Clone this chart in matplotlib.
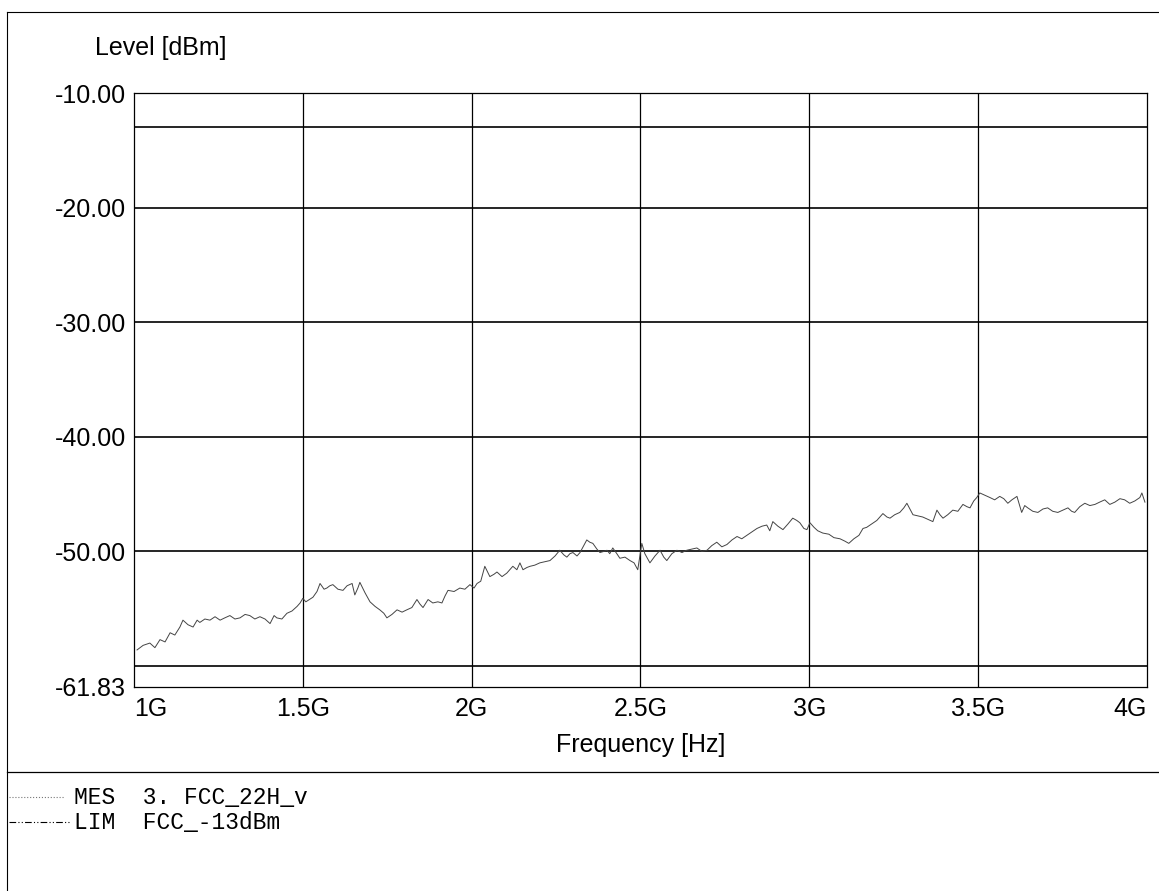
import matplotlib
matplotlib.use("Agg")
import matplotlib.pyplot as plt
from matplotlib.lines import Line2D

# MES 3. FCC_22H_v (GHz, dBm)
freq_ghz = [
    1.009, 1.027, 1.047, 1.062, 1.077, 1.092, 1.107, 1.121, 1.136, 1.145,
    1.160, 1.175, 1.187, 1.195, 1.210, 1.225, 1.240, 1.255, 1.269, 1.284,
    1.299, 1.314, 1.329, 1.343, 1.358, 1.373, 1.388, 1.403, 1.415, 1.423,
    1.438, 1.453, 1.468, 1.483, 1.492, 1.500, 1.509, 1.530, 1.542, 1.551,
    1.563, 1.571, 1.580, 1.589, 1.604, 1.619, 1.631, 1.646, 1.654, 1.663,
    1.669, 1.684, 1.699, 1.714, 1.728, 1.740, 1.749, 1.764, 1.779, 1.794,
    1.808, 1.823, 1.838, 1.847, 1.856, 1.871, 1.885, 1.900, 1.912, 1.921,
    1.930, 1.948, 1.965, 1.980, 1.995, 2.007, 2.016, 2.027, 2.039, 2.054,
    2.066, 2.075, 2.090, 2.104, 2.122, 2.134, 2.143, 2.152, 2.164, 2.173,
    2.187, 2.202, 2.217, 2.232, 2.247, 2.261, 2.273, 2.282, 2.291, 2.300,
    2.312, 2.321, 2.332, 2.341, 2.350, 2.359, 2.371, 2.380, 2.392, 2.401,
    2.409, 2.418, 2.430, 2.439, 2.454, 2.469, 2.481, 2.492, 2.504, 2.513,
    2.528, 2.543, 2.558, 2.569, 2.578, 2.593, 2.608, 2.623, 2.637, 2.652,
    2.667, 2.682, 2.697, 2.711, 2.726, 2.741, 2.756, 2.771, 2.786, 2.800,
    2.815, 2.830, 2.845, 2.860, 2.874, 2.883, 2.892, 2.907, 2.922, 2.937,
    2.951, 2.963, 2.972, 2.984, 2.993, 3.002, 3.014, 3.025, 3.040, 3.058,
    3.073, 3.091, 3.105, 3.117, 3.132, 3.147, 3.159, 3.170, 3.185, 3.200,
    3.218, 3.230, 3.239, 3.253, 3.268, 3.280, 3.289, 3.298, 3.307, 3.321,
    3.336, 3.351, 3.366, 3.378, 3.387, 3.396, 3.410, 3.425, 3.440, 3.455,
    3.467, 3.476, 3.487, 3.496, 3.505, 3.520, 3.535, 3.549, 3.564, 3.576,
    3.588, 3.600, 3.615, 3.629, 3.638, 3.647, 3.662, 3.677, 3.692, 3.706,
    3.721, 3.736, 3.751, 3.766, 3.777, 3.786, 3.801, 3.816, 3.831, 3.846,
    3.860, 3.875, 3.890, 3.905, 3.920, 3.934, 3.949, 3.964, 3.979, 3.985,
    3.994,
]
level_dbm = [
    -58.6, -58.2, -58.0, -58.4, -57.7, -57.9, -57.1, -57.3, -56.6, -56.0,
    -56.4, -56.6, -56.0, -56.2, -55.9, -56.0, -55.7, -56.0, -55.8, -55.6,
    -55.9, -55.8, -55.5, -55.6, -55.9, -55.7, -55.9, -56.3, -55.6, -55.8,
    -55.9, -55.4, -55.2, -54.8, -54.5, -54.1, -54.4, -54.0, -53.5, -52.8,
    -53.3, -53.2, -53.0, -52.9, -53.3, -53.4, -53.0, -52.8, -53.8, -53.2,
    -52.7, -53.6, -54.4, -54.8, -55.1, -55.4, -55.8, -55.5, -55.1, -55.3,
    -55.1, -54.9, -54.2, -54.6, -54.9, -54.2, -54.5, -54.4, -54.5, -53.9,
    -53.4, -53.5, -53.2, -53.3, -52.9, -53.2, -52.8, -52.6, -51.3, -52.2,
    -52.0, -51.8, -52.2, -51.9, -51.3, -51.6, -51.0, -51.6, -51.4, -51.3,
    -51.2, -51.0, -50.9, -50.8, -50.4, -49.9, -50.3, -50.5, -50.2, -50.1,
    -50.4, -50.1, -49.5, -49.0, -49.2, -49.3, -49.8, -50.1, -50.0, -49.9,
    -50.2, -49.7, -50.2, -50.6, -50.5, -50.8, -51.0, -51.6, -49.3, -50.2,
    -51.0, -50.4, -49.9, -50.5, -50.8, -50.2, -49.9, -50.1, -49.9, -49.8,
    -49.7, -50.0, -49.9, -49.5, -49.2, -49.6, -49.4, -49.0, -48.7, -48.9,
    -48.6, -48.3, -48.0, -47.8, -47.7, -48.2, -47.4, -47.8, -48.1, -47.6,
    -47.1, -47.3, -47.5, -48.0, -48.1, -47.5, -47.9, -48.2, -48.4, -48.5,
    -48.8, -48.9, -49.1, -49.3, -48.9, -48.6, -48.0, -47.9, -47.6, -47.3,
    -46.7, -47.0, -47.1, -46.8, -46.6, -46.2, -45.8, -46.3, -46.8, -46.9,
    -47.0, -47.2, -47.4, -46.4, -46.8, -47.1, -46.8, -46.4, -46.5, -45.9,
    -46.1, -46.2, -45.6, -45.3, -44.9, -45.1, -45.3, -45.5, -45.2, -45.4,
    -45.8, -45.5, -45.2, -46.6, -46.0, -46.2, -46.5, -46.6, -46.3, -46.2,
    -46.5, -46.6, -46.4, -46.2, -46.5, -46.6, -46.1, -45.8, -46.0, -45.9,
    -45.7, -45.5, -45.9, -45.7, -45.4, -45.5, -45.8, -45.6, -45.3, -44.9,
    -45.7,
]

limit_dbm = -13.0
grid_levels = [-20, -30, -40, -50, -60]
y_ticks = [-61.83, -50, -40, -30, -20, -10]
y_ticklabels = ["-61.83", "-50.00", "-40.00", "-30.00", "-20.00", "-10.00"]
x_ticks = [1.0, 1.5, 2.0, 2.5, 3.0, 3.5, 4.0]
x_ticklabels = ["1G", "1.5G", "2G", "2.5G", "3G", "3.5G", "4G"]

plt.rcParams["font.family"] = ["Liberation Sans", "DejaVu Sans"]

fig = plt.figure(figsize=(11.59, 8.91), dpi=100)
ax = fig.add_axes([0.1156, 0.2290, 0.8740, 0.6666])

for g in grid_levels:
    ax.axhline(g, color="black", lw=1.2, zorder=1)
for xt in x_ticks[1:-1]:
    ax.axvline(xt, color="black", lw=0.9, zorder=1)
ax.axhline(limit_dbm, color="black", lw=1.2, zorder=2)

ax.plot(freq_ghz, level_dbm, color="#444444", lw=0.7, zorder=3)

ax.set_xlim(1.0, 4.0)
ax.set_ylim(-61.83, -10)
ax.set_yticks(y_ticks)
ax.set_yticklabels(y_ticklabels, fontsize=18)
ax.set_xticks(x_ticks)
ax.set_xticklabels(x_ticklabels, fontsize=18)
labs = ax.get_xticklabels()
labs[0].set_horizontalalignment("left")
labs[-1].set_horizontalalignment("right")
ax.tick_params(axis="x", length=0, pad=7)
ax.tick_params(axis="y", length=0, pad=5.5)
for s in ax.spines.values():
    s.set_linewidth(0.9)

ax.set_xlabel("Frequency [Hz]", fontsize=18, labelpad=9)
fig.text(0.082, 0.946, "Level [dBm]", fontsize=18, va="center", ha="left")

# page frame of the test report
fig.add_artist(Line2D([0.006, 0.006], [0.0, 0.986], color="black", lw=0.8))
fig.add_artist(Line2D([0.006, 1.0], [0.986, 0.986], color="black", lw=0.8))
fig.add_artist(Line2D([0.006, 1.0], [0.134, 0.134], color="black", lw=0.9))

# legend block
mono = ["Liberation Mono", "DejaVu Sans Mono"]
fig.add_artist(Line2D([0.008, 0.055], [0.105, 0.105], color="#777777", lw=0.8, ls=":"))
fig.add_artist(Line2D([0.008, 0.060], [0.077, 0.077], color="black", lw=0.8,
                      dashes=[6, 2, 1, 2, 1, 2]))
fig.text(0.064, 0.105, "MES  3. FCC_22H_v", family=mono, fontsize=16.5, va="center")
fig.text(0.064, 0.077, "LIM  FCC_-13dBm", family=mono, fontsize=16.5, va="center")

fig.savefig("out.png", dpi=100)
